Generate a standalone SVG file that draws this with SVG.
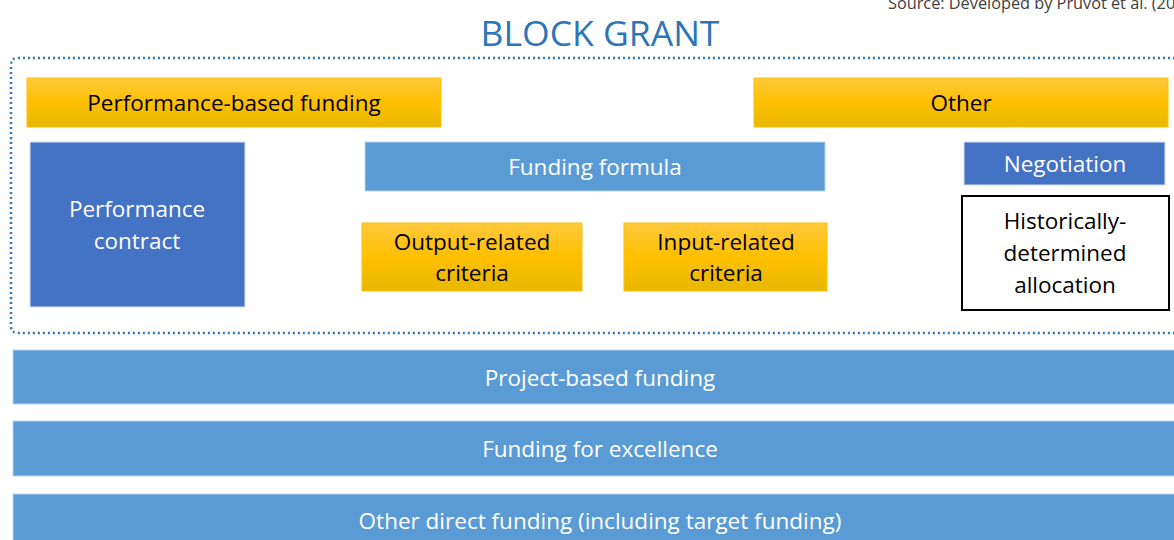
<svg xmlns="http://www.w3.org/2000/svg" width="1174" height="540" viewBox="0 0 1174 540">
<defs>
<linearGradient id="gold" x1="0" y1="0" x2="0" y2="1">
<stop offset="0" stop-color="#FFC83D"/>
<stop offset="0.5" stop-color="#FFC000"/>
<stop offset="1" stop-color="#E8B700"/>
</linearGradient>
</defs>
<style>
text{font-family:"Open Sans","Noto Sans",sans-serif;text-anchor:middle}
.y{fill:url(#gold);stroke:#FFC000;stroke-width:1}
.lb{fill:#5B9BD5;stroke:#BDD7EE;stroke-width:1}
.db{fill:#4472C4;stroke:#D6E0F5;stroke-width:1}
.tb{fill:#000;font-size:22.5px}
.tw{fill:#fff;font-size:22.5px}
</style>
<rect width="1174" height="540" fill="#fff"/>
<text x="888" y="9" style="text-anchor:start;font-size:16.3px;fill:#404040">Source: Developed by Pruvot et al. (2015)</text>
<text x="600" y="46" style="font-size:35.5px;fill:#2E75B6">BLOCK GRANT</text>
<path d="M1180 58 H18 Q11 58 11 65 V326 Q11 333 18 333 H1180" fill="none" stroke="#2E75B6" stroke-width="2.5" stroke-dasharray="2 3"/>
<g id="connectors"></g>
<g id="perf-based"><rect class="y" x="27" y="78" width="414" height="49"/><text class="tb" x="234" y="111">Performance-based funding</text></g>
<g id="other"><rect class="y" x="754" y="78" width="414" height="49"/><text class="tb" x="961" y="111">Other</text></g>
<g id="perf-contract"><rect class="db" x="30" y="142" width="215" height="165"/><text class="tw" x="137" y="217">Performance</text><text class="tw" x="137" y="249">contract</text></g>
<g id="formula"><rect class="lb" x="365" y="142" width="460" height="49"/><text class="tw" x="595" y="175">Funding formula</text></g>
<g id="negotiation"><rect class="db" x="964" y="142" width="201" height="43"/><text class="tw" x="1065" y="172">Negotiation</text></g>
<g id="historic"><rect x="962" y="196" width="207" height="114" fill="#fff" stroke="#000" stroke-width="2"/><text class="tb" x="1065" y="229">Historically-</text><text class="tb" x="1065" y="261">determined</text><text class="tb" x="1065" y="293">allocation</text></g>
<g id="output"><rect class="y" x="362" y="223" width="220" height="68"/><text class="tb" x="472" y="250">Output-related</text><text class="tb" x="472" y="281">criteria</text></g>
<g id="input"><rect class="y" x="624" y="223" width="203" height="68"/><text class="tb" x="726" y="250">Input-related</text><text class="tb" x="726" y="281">criteria</text></g>
<g id="project"><rect class="lb" x="13" y="350" width="1170" height="54"/><text class="tw" x="600" y="386">Project-based funding</text></g>
<g id="excellence"><rect class="lb" x="13" y="421" width="1170" height="55"/><text class="tw" x="600" y="457">Funding for excellence</text></g>
<g id="direct"><rect class="lb" x="13" y="494" width="1170" height="60"/><text class="tw" x="600" y="529">Other direct funding (including target funding)</text></g>
</svg>
